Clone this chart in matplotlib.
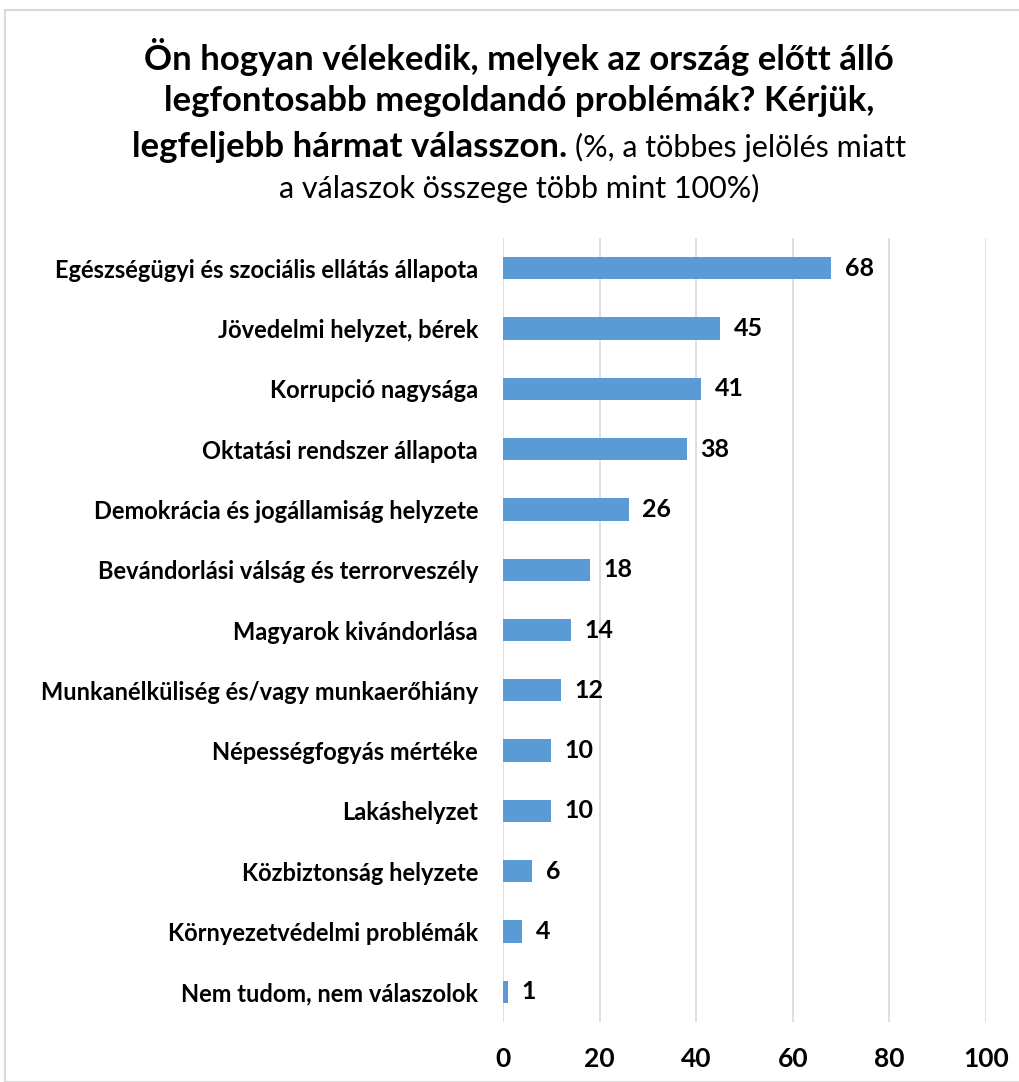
import matplotlib
matplotlib.use("Agg")
import matplotlib.pyplot as plt
from matplotlib.patches import Rectangle

categories = [
    "Egészségügyi és szociális ellátás állapota",
    "Jövedelmi helyzet, bérek",
    "Korrupció nagysága",
    "Oktatási rendszer állapota",
    "Demokrácia és jogállamiság helyzete",
    "Bevándorlási válság és terrorveszély",
    "Magyarok kivándorlása",
    "Munkanélküliség és/vagy munkaerőhiány",
    "Népességfogyás mértéke",
    "Lakáshelyzet",
    "Közbiztonság helyzete",
    "Környezetvédelmi problémák",
    "Nem tudom, nem válaszolok",
]
values = [68, 45, 41, 38, 26, 18, 14, 12, 10, 10, 6, 4, 1]
xticks = [0, 20, 40, 60, 80, 100]

plt.rcParams['font.family'] = ['Lato', 'DejaVu Sans']

W, H = 1019, 1082
fig = plt.figure(figsize=(W / 100, H / 100), dpi=100)
fig.patch.set_facecolor('white')
fig.patches.append(Rectangle((5 / W, 0), 1.2, 1 - 10 / H, transform=fig.transFigure,
                             fill=False, edgecolor='#d9d9d9', lw=1.5))

ax = fig.add_axes([503 / W, 1 - 1022 / H, (986 - 503) / W, (1022 - 238) / H])
ypos = list(range(len(categories)))
ax.barh(ypos, values, height=0.37, color='#5b9bd5')
ax.set_ylim(len(categories) - 0.5, -0.5)
ax.set_xlim(0, 100)
ax.set_xticks(xticks)
ax.set_xticklabels([str(t) for t in xticks], fontsize=19, fontweight='bold')
ax.set_yticks(ypos)
ax.set_yticklabels(categories, fontsize=17, fontweight='bold')
ax.tick_params(length=0, pad=18, axis='y')
ax.tick_params(length=0, pad=18, axis='x')
ax.grid(True, axis='x', color='#d9d9d9', lw=1.2)
ax.set_axisbelow(True)
for s in ax.spines.values():
    s.set_visible(False)
for y, v in zip(ypos, values):
    ax.text(v + 2.8, y, str(v), va='center', ha='left', fontsize=18, fontweight='bold')

# title, with the last part in normal weight
tfs = 25
nfs = 22
fig.text(519 / W, 1 - 57 / H, "Ön hogyan vélekedik, melyek az ország előtt álló",
         ha='center', va='center', fontsize=tfs, fontweight='bold')
fig.text(519 / W, 1 - 101 / H, "legfontosabb megoldandó problémák? Kérjük,",
         ha='center', va='center', fontsize=tfs, fontweight='bold')
t1 = fig.text(0, 1 - 147 / H, "legfeljebb hármat válasszon. ",
              ha='left', va='baseline', fontsize=tfs, fontweight='bold')
t2 = fig.text(0, 1 - 147 / H, "(%, a többes jelölés miatt",
              ha='left', va='baseline', fontsize=nfs)
fig.text(519 / W, 1 - 188 / H, "a válaszok összege több mint 100%)",
         ha='center', va='center', fontsize=nfs)
r = fig.canvas.get_renderer()
w1 = t1.get_window_extent(r).width
w2 = t2.get_window_extent(r).width
x0 = 519 - (w1 + w2) / 2
t1.set_position((x0 / W, 1 - 157 / H))
t2.set_position(((x0 + w1) / W, 1 - 157 / H))

fig.savefig("out.png", dpi=100)
